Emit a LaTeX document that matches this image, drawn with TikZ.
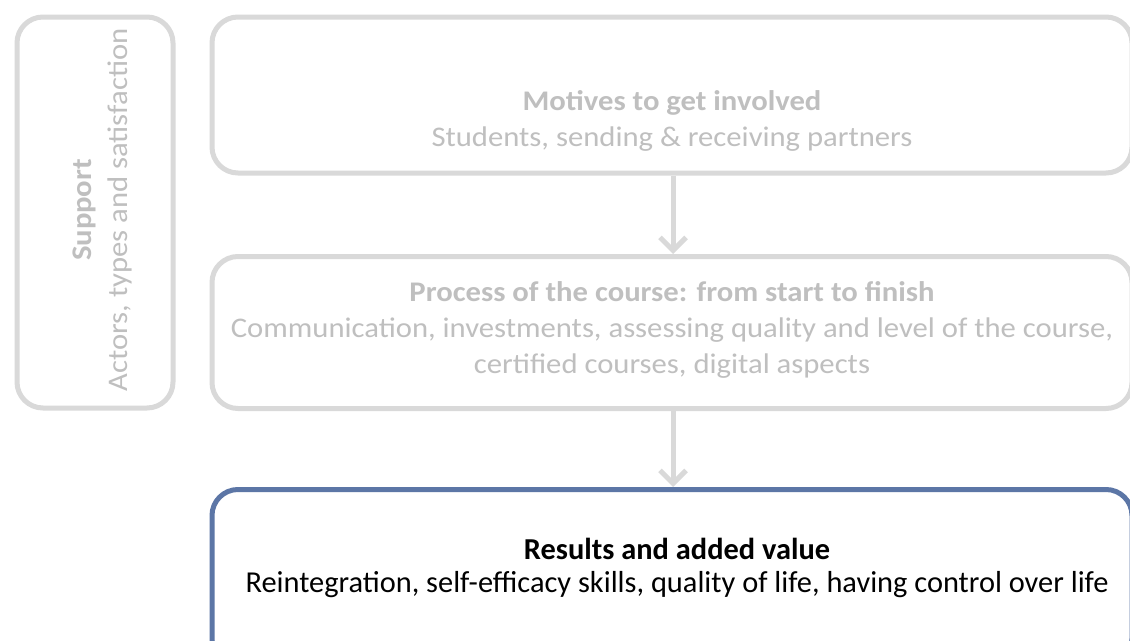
\documentclass[tikz,border=0pt]{standalone}
\usepackage{fontspec}
\setmainfont{Carlito}
\newfontfamily\wide[FakeStretch=1.08]{Carlito}
\usetikzlibrary{arrows.meta,calc}
\definecolor{boxgray}{RGB}{217,217,217}
\definecolor{txtgray}{RGB}{191,191,191}
\definecolor{boxblue}{RGB}{92,118,166}
\tikzset{
  panel/.style={draw=boxgray, line width=5pt, rounded corners=26pt, inner sep=0pt, anchor=north west},
  bluepanel/.style={panel, draw=boxblue},
  flow/.style={draw=boxgray, line width=5pt, -{Straight Barb[length=13pt,width=26pt,line width=5pt]}},
  graytext/.style={text=txtgray, align=center, font=\wide\fontsize{28.4}{36}\selectfont},
  blacktext/.style={text=black, align=center, font=\fontsize{30.4}{33.5}\selectfont},
}
\begin{document}
\begin{tikzpicture}[x=1pt,y=-1pt]
\useasboundingbox (0,0) rectangle (1130,640);
\clip (0,0) rectangle (1130,640);
\fill[white] (0,0) rectangle (1130,640);
% boxes
\node[panel, minimum width=156pt, minimum height=391pt] (sup) at (14.5,14.5) {};
\node[panel, minimum width=920pt, minimum height=156pt] (mot) at (209.5,14.5) {};
\node[panel, minimum width=920pt, minimum height=152pt] (proc) at (209.5,254) {};
\node[bluepanel, minimum width=920pt, minimum height=175pt] (res) at (209.5,487) {};
% texts
\node[graytext, rotate=90] (suptxt) at (102,210) {{\bfseries Support}\\Actors, types and satisfaction};
\node[graytext] (mottxt) at (672,121) {{\bfseries Motives to get involved}\\Students, sending \& receiving partners};
\node[graytext] (proctxt) at (672,330) {{\bfseries Process of the course: from start to finish}\\Communication, investments, assessing quality and level of the course,\\certified courses, digital aspects};
\node[blacktext] (restxt) at (677,568) {{\bfseries Results and added value}\\Reintegration, self-efficacy skills, quality of life, having control over life};
% arrows
\coordinate (ax) at (673,0);
\draw[flow] (mot.south -| ax) -- (proc.north -| ax);
\draw[flow] (proc.south -| ax) -- (res.north -| ax);
\end{tikzpicture}
\end{document}
